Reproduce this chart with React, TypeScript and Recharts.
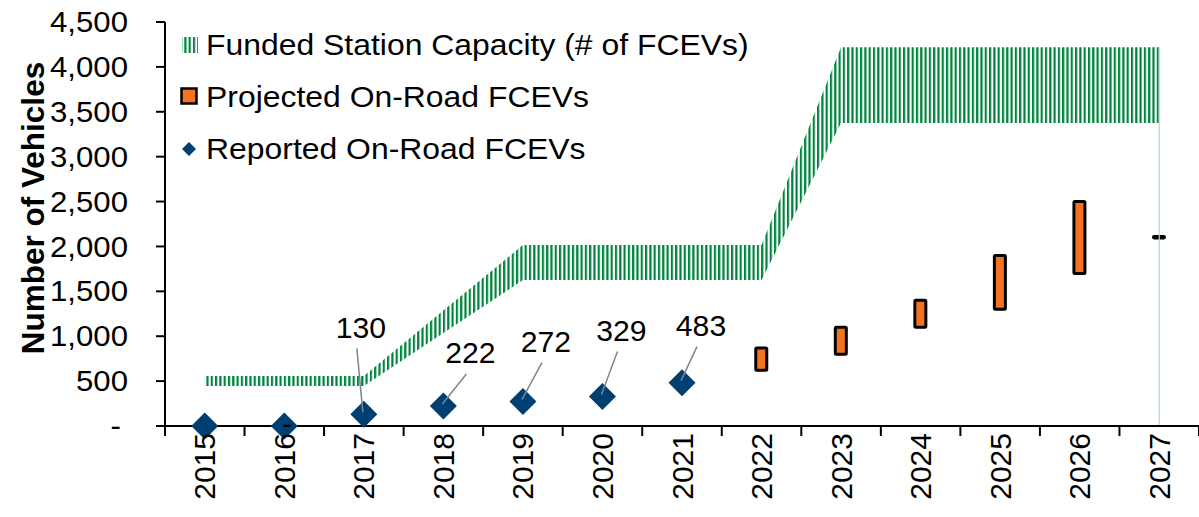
import React from 'react';
import { ComposedChart, Area, Bar, Line, XAxis, YAxis, ReferenceLine } from 'recharts';

const years = ['2015', '2016', '2017', '2018', '2019', '2020', '2021', '2022', '2023', '2024', '2025', '2026', '2027'];
const capacityLow = [445, 445, 445, 1035, 1626, 1626, 1626, 1626, 3374, 3374, 3374, 3374, 3374];
const capacityHigh = [557, 557, 557, 1286, 2015, 2015, 2015, 2015, 4220, 4220, 4220, 4220, 4220];
const projectedLow = [null, null, null, null, null, null, null, 620, 800, 1100, 1300, 1700, 2095];
const projectedHigh = [null, null, null, null, null, null, null, 870, 1100, 1400, 1900, 2500, 2112];
const reported = [0, 0, 130, 222, 272, 329, 483, null, null, null, null, null, null];
const reportedLabels = ['', '-', '130', '222', '272', '329', '483', '', '', '', '', '', ''];
const projectedLabels = ['', '', '', '', '', '', '', '', '', '', '', '', '1,900'];
const yTicks = [0, 500, 1000, 1500, 2000, 2500, 3000, 3500, 4000, 4500];

const data = years.map((year, i) => ({
  year,
  capacity: [capacityLow[i], capacityHigh[i]],
  projected: projectedLow[i] == null ? null : [projectedLow[i], projectedHigh[i]],
  reported: reported[i],
}));

const FONT = '"Liberation Sans", Arial, sans-serif';
const GREEN = '#00843D';
const ORANGE = '#F47321';
const BLUE = '#003F72';

// label placement relative to the marker: [dx, dy] of label centre
const labelPos: Record<number, [number, number]> = {
  1: [3, -2],
  2: [-3, -87],
  3: [27, -53],
  4: [23, -60],
  5: [19, -66],
  6: [19, -57],
};

const Diamond = (props: any) => {
  const { cx, cy } = props;
  if (cx == null || cy == null || props.value == null) return null;
  const r = 13.5;
  return <path d={`M${cx},${cy - r}L${cx + r},${cy}L${cx},${cy + r}L${cx - r},${cy}Z`} fill={BLUE} />;
};

const LabelText = ({ x, y, text }: { x: number; y: number; text: string }) => (
  <text
    transform={`translate(${x} ${y}) scale(1.04 1)`}
    textAnchor="middle"
    dominantBaseline="central"
    fontSize={29}
    fontFamily={FONT}
    fill="#000"
  >
    {text}
  </text>
);

const ReportedLabel = (props: any) => {
  const { x, y, index } = props;
  const text = reportedLabels[index];
  if (!text || x == null || y == null) return null;
  const [dx, dy] = labelPos[index] || [0, -40];
  const lx = x + dx;
  const ly = y + dy;
  if (index === 1) return <LabelText x={lx} y={ly} text={text} />;
  return (
    <g>
      <line x1={lx - 4} y1={ly + 21} x2={x - 1} y2={y - 2} stroke="#7F858C" strokeWidth={1.5} />
      <LabelText x={lx} y={ly} text={text} />
    </g>
  );
};

const ProjectedLabel = (props: any) => {
  const { x, y, width, index } = props;
  const text = projectedLabels[index];
  if (!text) return null;
  return <LabelText x={x + width / 2 - 9} y={y - 31} text={text} />;
};

const XTick = (props: any) => {
  const { x, y, payload, index } = props;
  const half = payload.offset != null ? payload.offset : 39.77;
  return (
    <g>
      <line x1={x - half} y1={y - 8} x2={x - half} y2={y + 2} stroke="#000" strokeWidth={2} />
      {index === years.length - 1 && (
        <line x1={x + half} y1={y - 8} x2={x + half} y2={y + 2} stroke="#000" strokeWidth={2} />
      )}
      <text
        transform={`translate(${x},${y - 1}) rotate(-90)`}
        textAnchor="end"
        dominantBaseline="central"
        fontSize={30}
        fontFamily={FONT}
        fill="#000"
      >
        {payload.value}
      </text>
    </g>
  );
};

const YTick = (props: any) => {
  const { y, payload } = props;
  const v = payload.value;
  return (
    <text
      transform={`translate(${v === 0 ? 121 : 128} ${y}) scale(1.075 1)`}
      textAnchor="end"
      dominantBaseline="central"
      fontSize={29}
      fontFamily={FONT}
      fill="#000"
    >
      {v === 0 ? '-' : v.toLocaleString('en-US')}
    </text>
  );
};

const legendText: React.CSSProperties = {
  display: 'inline-block',
  transform: 'scaleX(1.1)',
  transformOrigin: 'left center',
  whiteSpace: 'nowrap',
};

const LegendBox = () => (
  <div style={{ fontFamily: FONT, fontSize: 29, color: '#000' }}>
    <div style={{ display: 'flex', alignItems: 'center', height: 52 }}>
      <svg width={26} height={20}>
        <defs>
          <pattern id="hatchLegend" width={4.3} height={4} patternUnits="userSpaceOnUse">
            <rect x={0} y={0} width={2.2} height={4} fill={GREEN} />
          </pattern>
        </defs>
        <rect x={2} y={2} width={16} height={16} fill="url(#hatchLegend)" />
      </svg>
      <span style={legendText}>Funded Station Capacity (# of FCEVs)</span>
    </div>
    <div style={{ display: 'flex', alignItems: 'center', height: 52 }}>
      <svg width={26} height={20}>
        <rect x={1.5} y={1.5} width={15} height={15} fill={ORANGE} stroke="#000" strokeWidth={2.5} />
      </svg>
      <span style={legendText}>Projected On-Road FCEVs</span>
    </div>
    <div style={{ display: 'flex', alignItems: 'center', height: 52 }}>
      <svg width={26} height={20}>
        <path d="M9,3L16,10L9,17L2,10Z" fill={BLUE} />
      </svg>
      <span style={legendText}>Reported On-Road FCEVs</span>
    </div>
  </div>
);

export default function App() {
  return (
    <div style={{ position: 'absolute', left: 0, top: 0, width: 1199, height: 517, background: '#fff' }}>
      <ComposedChart width={1199} height={517} data={data} margin={{ top: 22, right: 0, bottom: 0, left: 0 }} barCategoryGap={0}>
        <defs>
          <pattern id="hatch" width={4.3} height={4} patternUnits="userSpaceOnUse">
            <rect x={0} y={0} width={2.2} height={4} fill={GREEN} />
          </pattern>
        </defs>
        <XAxis
          dataKey="year"
          height={91}
          interval={0}
          tickLine={false}
          axisLine={{ stroke: '#000', strokeWidth: 2 }}
          tick={<XTick />}
        />
        <YAxis
          width={165}
          domain={[0, 4500]}
          ticks={yTicks}
          interval={0}
          tickSize={9}
          tickLine={{ stroke: '#000', strokeWidth: 2 }}
          axisLine={{ stroke: '#000', strokeWidth: 2 }}
          tick={<YTick />}
        />
        <Area
          dataKey="capacity"
          type="linear"
          stroke="none"
          fill="url(#hatch)"
          fillOpacity={1}
          isAnimationActive={false}
          activeDot={false}
        />
        <ReferenceLine
          segment={[{ x: '2027', y: 0 }, { x: '2027', y: 4220 }]}
          stroke="#A9DCD0"
          strokeWidth={1.2}
        />
        <Bar
          dataKey="projected"
          barSize={11}
          fill={ORANGE}
          stroke="#000"
          strokeWidth={3}
          radius={1}
          isAnimationActive={false}
          label={<ProjectedLabel />}
        />
        <Line
          dataKey="reported"
          stroke="none"
          dot={<Diamond />}
          activeDot={false}
          isAnimationActive={false}
          label={<ReportedLabel />}
        />
      </ComposedChart>
      <div style={{ position: 'absolute', left: 180, top: 19 }}>
        <LegendBox />
      </div>
      <div
        style={{
          position: 'absolute',
          left: 33,
          top: 208,
          transform: 'translate(-50%, -50%) rotate(-90deg)',
          fontFamily: FONT,
          fontSize: 31.5,
          fontWeight: 'bold',
          whiteSpace: 'nowrap',
          color: '#000',
        }}
      >
        Number of Vehicles
      </div>
    </div>
  );
}
